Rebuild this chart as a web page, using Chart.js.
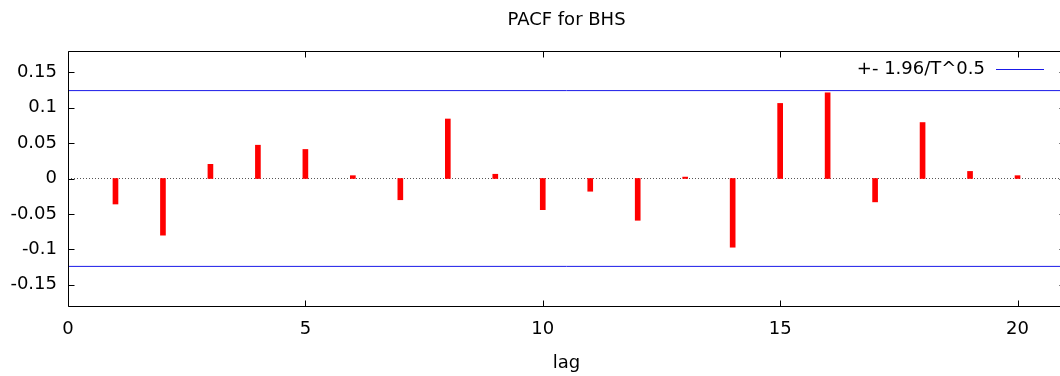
<!DOCTYPE html>
<html>
<head>
<meta charset="utf-8">
<script src="https://cdn.jsdelivr.net/npm/chart.js@4.4.1/dist/chart.umd.min.js"></script>
<style>
  html, body { margin: 0; padding: 0; background: #fff; overflow: hidden; }
  #grafica { display: block; }
</style>
</head>
<body>
<canvas id="grafica" width="1070" height="376"></canvas>
<script>
// datos
const lags = [1, 2, 3, 4, 5, 6, 7, 8, 9, 10, 11, 12, 13, 14, 15, 16, 17, 18, 19, 20];
const pacf = [-0.036, -0.080, 0.020, 0.047, 0.041, 0.004, -0.030, 0.084, 0.006, -0.044,
              -0.018, -0.059, 0.002, -0.097, 0.106, 0.121, -0.033, 0.079, 0.010, 0.004];
const banda = 0.1241;
const xTicks = [0, 5, 10, 15, 20];
const yTicks = [-0.15, -0.1, -0.05, 0, 0.05, 0.1, 0.15];
const xMax = 21;
const yMin = -0.18, yMax = 0.18;

const fuente = "'DejaVu Sans', sans-serif";
const tam = 18;
const azul = "#1a1ae8";

// marco estilo gnuplot: borde, ticks hacia dentro, titulo y leyenda
const marcoGnuplot = {
  id: "marcoGnuplot",
  afterDraw(chart) {
    const ctx = chart.ctx;
    const a = chart.chartArea;
    const xs = chart.scales.x, ys = chart.scales.y;
    const L = Math.round(a.left) + 0.5, R = Math.round(a.right) + 0.5;
    const T = Math.round(a.top) + 0.5, B = Math.round(a.bottom) + 0.5;
    ctx.save();
    ctx.strokeStyle = "#000";
    ctx.lineWidth = 1;
    ctx.beginPath();
    ctx.rect(L, T, R - L, B - T);
    xTicks.forEach(v => {
      const px = Math.round(xs.getPixelForValue(v)) + 0.5;
      ctx.moveTo(px, B); ctx.lineTo(px, B - 6);
      ctx.moveTo(px, T); ctx.lineTo(px, T + 6);
    });
    yTicks.forEach(v => {
      const py = Math.round(ys.getPixelForValue(v)) + 0.5;
      ctx.moveTo(L, py); ctx.lineTo(L + 6, py);
      ctx.moveTo(R, py); ctx.lineTo(R - 6, py);
    });
    ctx.stroke();

    // titulo
    ctx.fillStyle = "#000";
    ctx.font = tam + "px " + fuente;
    ctx.textAlign = "center";
    ctx.textBaseline = "middle";
    ctx.fillText("PACF for BHS", (a.left + a.right) / 2, 20);

    // leyenda
    ctx.textAlign = "right";
    ctx.fillText("+- 1.96/T^0.5", 985, 69);
    ctx.strokeStyle = azul;
    ctx.beginPath();
    ctx.moveTo(996, 69.5); ctx.lineTo(1044, 69.5);
    ctx.stroke();
    ctx.restore();
  }
};

const ctx = document.getElementById("grafica").getContext("2d");
new Chart(ctx, {
  type: "bar",
  data: {
    datasets: [
      {
        type: "bar",
        label: "PACF",
        data: lags.map((l, i) => ({ x: l, y: pacf[i] })),
        backgroundColor: "#ff0000",
        barThickness: 5,
        order: 1
      },
      {
        type: "line",
        label: "+- 1.96/T^0.5",
        data: [{ x: 0, y: banda }, { x: xMax, y: banda }],
        borderColor: azul,
        borderWidth: 1,
        pointRadius: 0,
        order: 0
      },
      {
        type: "line",
        label: "-banda",
        data: [{ x: 0, y: -banda }, { x: xMax, y: -banda }],
        borderColor: azul,
        borderWidth: 1,
        pointRadius: 0,
        order: 0
      },
      {
        type: "line",
        label: "cero",
        data: [{ x: 0, y: 0 }, { x: xMax, y: 0 }],
        borderColor: "#555",
        borderWidth: 1,
        borderDash: [1, 2],
        pointRadius: 0,
        order: 2
      }
    ]
  },
  options: {
    responsive: false,
    animation: false,
    devicePixelRatio: 1,
    layout: { padding: { top: 51, right: 5, left: 0, bottom: 0 } },
    plugins: {
      legend: { display: false },
      title: { display: false },
      tooltip: { enabled: false }
    },
    scales: {
      x: {
        type: "linear",
        min: 0,
        max: xMax,
        offset: false,
        grid: { display: false, drawTicks: false },
        border: { display: false },
        afterFit: s => { s.height = 70; },
        afterBuildTicks: s => { s.ticks = xTicks.map(v => ({ value: v })); },
        ticks: {
          padding: 13,
          maxRotation: 0,
          color: "#000",
          font: { family: fuente, size: tam }
        },
        title: {
          display: true,
          text: "lag",
          color: "#000",
          font: { family: fuente, size: tam },
          padding: { top: 0, bottom: 2 }
        }
      },
      y: {
        min: yMin,
        max: yMax,
        grid: { display: false, drawTicks: false },
        border: { display: false },
        afterFit: s => { s.width = 68; },
        afterBuildTicks: s => { s.ticks = yTicks.map(v => ({ value: v })); },
        ticks: {
          padding: 11,
          color: "#000",
          font: { family: fuente, size: tam },
          callback: v => String(Math.round(v * 100) / 100)
        }
      }
    }
  },
  plugins: [marcoGnuplot]
});
</script>
</body>
</html>
